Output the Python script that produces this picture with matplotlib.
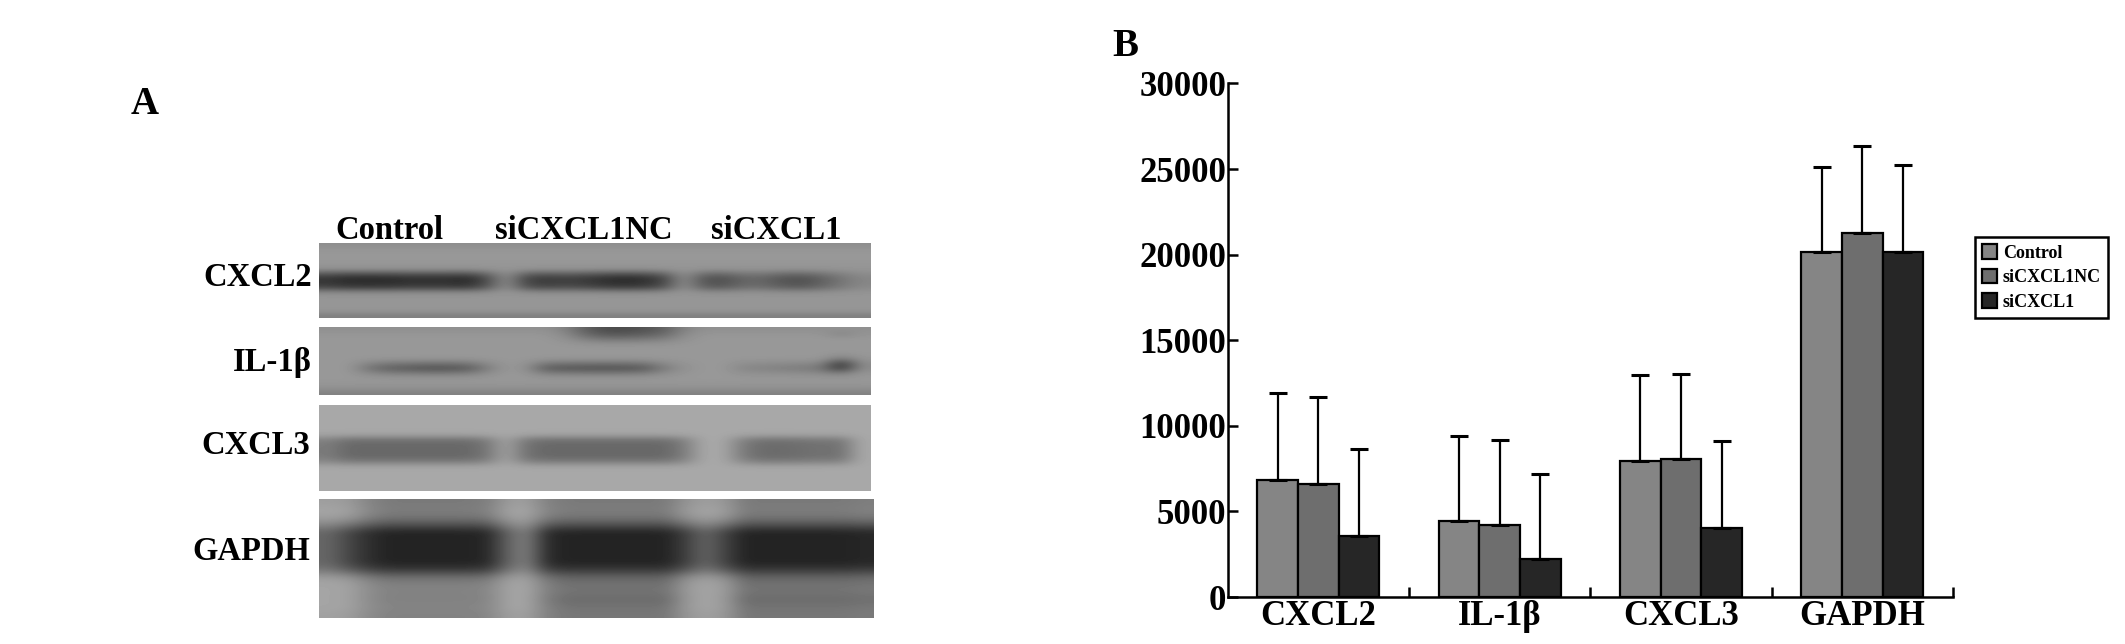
import numpy as np
import matplotlib
matplotlib.use('Agg')
import matplotlib.pyplot as plt

plt.rcParams['font.family'] = ['Liberation Serif', 'DejaVu Sans']
plt.rcParams['font.weight'] = 'bold'

W, H = 2125, 644

# bar chart values
categories = ['CXCL2', 'IL-1β', 'CXCL3', 'GAPDH']
groups = ['Control', 'siCXCL1NC', 'siCXCL1']
control = [6830, 4460, 7960, 20170]
control_top = [11930, 9430, 12960, 25110]
nc = [6600, 4230, 8080, 21280]
nc_top = [11700, 9200, 13050, 26370]
si = [3550, 2200, 4030, 20170]
si_top = [8640, 7170, 9100, 25250]
bar_colors = ['#858585', '#6e6e6e', '#262626']
yticks = [0, 5000, 10000, 15000, 20000, 25000, 30000]

# western blot panel, gray levels
lanes = ['Control', 'siCXCL1NC', 'siCXCL1']
blots = ['CXCL2', 'IL-1β', 'CXCL3', 'GAPDH']

blot1_bg = [142, 150, 152, 152, 150, 150, 150, 150, 150, 150, 150, 150, 150, 150, 148, 128]
blot1_rows = [0, 0, 0, 0, 0, .05, .6, 1, 1, .8, .15, 0, 0, 0, 0, 0]
blot1_cols = [.9, 1, 1, 1, .95, .95, .95, 1, .7, .05, .75, .85, .8, .85, .95, 1, .95, .75, .05, .6, .65, .45, .45, .6, .65, .5, .3, .15]

blot2_bg = [144, 150, 152, 152, 152, 152, 152, 152, 152, 152, 152, 150, 146, 130]
blot2_rows = [0, 0, 0, 0, 0, 0, .05, .55, 1, .45, .05, 0, 0, 0]
blot2_cols = [0, 0, .5, .8, .9, 1, 1, .9, .4, 0, .1, .85, .95, 1, 1, 1, .9, .4, .1, 0, 0, .25, .3, .35, .4, .5, .7, .1]
smudge_rows = [1, .9, .5, .1, 0, 0, 0, 0, 0, 0, 0, 0, 0, 0]
smudge_cols = [0, 0, 0, 0, 0, 0, 0, 0, 0, 0, 0, 0, .2, .7, 1, 1, .9, .7, .2, 0, 0, 0, 0, 0, 0, 0, 0, 0]
spot_rows = [0, .25, 0, 0, 0, .05, .4, 1, .7, .1, 0, 0, 0, 0]
spot_cols = [0, 0, 0, 0, 0, 0, 0, 0, 0, 0, 0, 0, 0, 0, 0, 0, 0, 0, 0, 0, 0, 0, 0, 0, 0, 0, 1, .1]

blot3_bg = [168] * 16
blot3_rows = [0, 0, 0, 0, 0, .1, .85, 1, 1, 1, .7, .05, 0, 0, 0, 0]
blot3_cols = [.7, 1, 1, 1, 1, 1, 1, 1, .8, .05, .85, 1, 1, 1, 1, 1, 1, 1, .7, 0, 0, .7, .95, .95, .9, .85, .85, 0]

blot4_bg = [158, 165, 165, 165, 165, 165, 165, 165, 165, 165, 165, 165, 165, 165, 165, 160]
blot4_rows = [0, 0, .1, .5, 1, 1, 1, 1, 1, .75, .15, 0, 0, 0, 0, 0]
blot4_cols = [.7, 1, 1, 1, 1, 1, 1, 1, 1, .7, .4, 1, 1, 1, 1, 1, 1, 1, 1, .7, 1, 1, 1, 1, 1, 1, 1, 1]
smear_rows = [.9, 1, 1, 1, 1, 1, 1, 1, 1, 1, 1, .9, .85, .9, .8, .75]
smear_cols = [0, .1, .7, 1, 1, 1, 1, 1, .9, .1, 0, .8, 1, 1, 1, 1, 1, 1, .3, 0, .2, 1, 1, 1, 1, 1, 1, .9]
tail_rows = [0, 0, 0, 0, 0, 0, 0, 0, 0, 0, .5, .7, .7, 1, .8, .5]
tail_cols = [0, 0, 0, 0, 0, 0, 0, 0, 0, 0, 0, .6, 1, 1, 1, 1, 1, 1, .2, 0, .2, 1, 1, 1, 1, 1, 1, 1]

blot_layers = [
    (blot1_bg, [(105, blot1_rows, blot1_cols)]),
    (blot2_bg, [(68, blot2_rows, blot2_cols), (68, smudge_rows, smudge_cols), (70, spot_rows, spot_cols)]),
    (blot3_bg, [(64, blot3_rows, blot3_cols)]),
    (blot4_bg, [(90, blot4_rows, blot4_cols), (40, smear_rows, smear_cols), (22, tail_rows, tail_cols)]),
]
# pixel boxes of the four strips: left, top, right, bottom
blot_boxes = [(319, 243, 871, 318), (319, 327, 871, 395), (319, 405, 871, 491), (319, 499, 874, 618)]
blot_label_y = [278, 362, 446, 552]
blot_label_x = [312, 312, 310, 310]
lane_label_x = [389, 584, 776]


def px_axes(fig, left, top, right, bottom):
    return fig.add_axes([left / W, 1 - bottom / H, (right - left) / W, (bottom - top) / H])


fig = plt.figure(figsize=(W / 100, H / 100), dpi=100, facecolor='white')

# panel A
for box, (bg, layers) in zip(blot_boxes, blot_layers):
    img = np.repeat(np.array(bg, dtype=float)[:, None], 28, axis=1)
    for depth, rows, cols in layers:
        img = img - depth * np.outer(rows, cols)
    a = px_axes(fig, *box)
    a.imshow(np.clip(img, 0, 255), cmap='gray', vmin=0, vmax=255, aspect='auto', interpolation='bicubic')
    a.axis('off')

for name, lx, y in zip(blots, blot_label_x, blot_label_y):
    fig.text(lx / W, 1 - y / H, name, fontsize=23.5, ha='right', va='center')
for name, x in zip(lanes, lane_label_x):
    fig.text(x / W, 1 - 230 / H, name, fontsize=23.5, ha='center', va='center')

fig.text(131 / W, 1 - 105 / H, 'A', fontsize=28, ha='left', va='center')
fig.text(1112 / W, 1 - 47 / H, 'B', fontsize=28, ha='left', va='center')

# panel B
ax = px_axes(fig, 1227.5, 83.5, 1953, 597)
x = np.arange(len(categories))
width = 0.224
handles = []
for i, (vals, tops) in enumerate(zip([control, nc, si], [control_top, nc_top, si_top])):
    pos = x + (i - 1) * width
    errs = np.array(tops) - np.array(vals)
    b = ax.bar(pos, vals, width, color=bar_colors[i], edgecolor='black', linewidth=1.6, label=groups[i],
               yerr=[np.zeros(4), errs], ecolor='black',
               error_kw={'elinewidth': 1.6, 'capsize': 6.5, 'capthick': 2.2})
    handles.append(b)

ax.set_xlim(-0.5, 3.5)
ax.set_ylim(0, 30000)
ax.spines['top'].set_visible(False)
ax.spines['right'].set_visible(False)
ax.spines['left'].set_linewidth(1.8)
ax.spines['bottom'].set_linewidth(1.8)
ax.set_yticks(yticks)
ax.set_xticks(x)
ax.set_xticklabels(categories)
ax.set_xticks(np.arange(0.5, 4, 1), minor=True)
ax.tick_params(axis='y', direction='in', length=7, width=1.8, labelsize=25, pad=1)
ax.tick_params(axis='x', which='major', length=0, labelsize=25, pad=2)
ax.tick_params(axis='x', which='minor', direction='in', length=7, width=1.8)

leg = fig.legend(handles=handles, labels=groups, loc='upper left', bbox_to_anchor=(1975 / W, 1 - 237 / H),
                 fontsize=13, frameon=True, fancybox=False, edgecolor='black', framealpha=1,
                 borderaxespad=0, handlelength=0.84, handleheight=0.84, handletextpad=0.3,
                 labelspacing=0.4, borderpad=0.4)
leg.get_frame().set_linewidth(1.8)

fig.savefig('out.png', dpi=100)
